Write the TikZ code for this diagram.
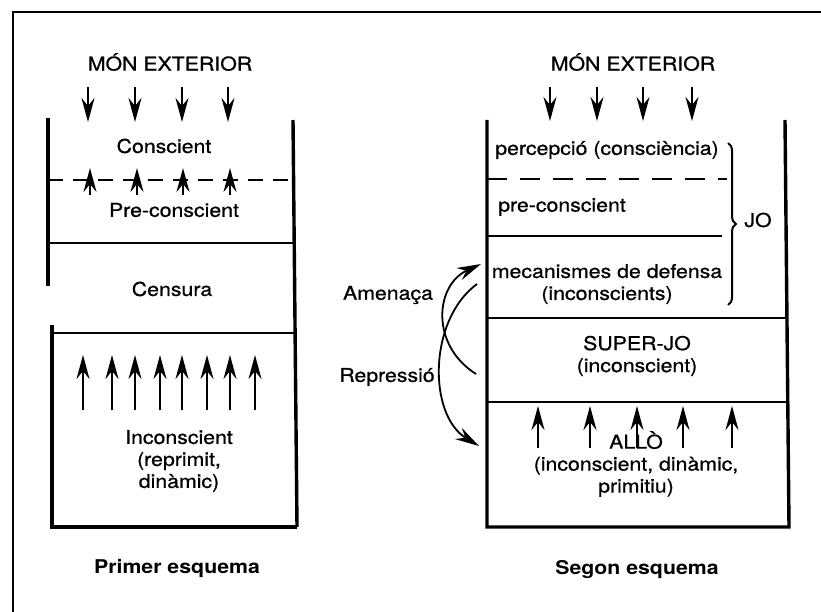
\documentclass[tikz,border=0pt]{standalone}
\usepackage{fontspec}
\setmainfont{TeX Gyre Heros}[FakeStretch=1.12, UprightFeatures={FakeBold=0.8}]
\usetikzlibrary{arrows.meta, decorations.pathreplacing}
\tikzset{
  wall/.style={line width=3.4pt},
  sep/.style={line width=2.8pt},
  dashsep/.style={line width=2.8pt, dash pattern=on 20pt off 13pt},
  flow/.style={line width=1.8pt, -{Stealth[length=24pt,width=13pt,inset=8pt]}},
  lbl/.style={font=\fontsize{19}{22}\selectfont, inner sep=0pt, align=center},
}
\begin{document}
\begin{tikzpicture}[x=1pt,y=-1pt]
      \useasboundingbox (0,0) rectangle (821,612);
      % frame
      \draw[sep] (13,612) -- (13,12) -- (821,12);
      % first scheme: walls and layers
      \draw[wall] (48,118) -- (48,286);
      \draw[wall] (293,120) -- (297,527);
      \draw[wall] (52,325) -- (52,527) -- (297,527);
      \draw[sep] (52,333) -- (296,333);
      \draw[sep] (48,243) -- (294,243);
      \draw[sep, dash pattern=on 15pt off 10pt] (48,180) -- (293,180);
      \node[lbl] (monA) at (170,62) {MÓN EXTERIOR};
      \node[lbl] (conscA) at (164,146) {Conscient};
      \node[lbl] (preA) at (174,210) {Pre-conscient};
      \node[lbl] (censA) at (172,289) {Censura};
      \node[lbl] (incA) at (179,461) {Inconscient\\(reprimit,\\dinàmic)};
      \node[lbl, font=\fontsize{19}{22}\selectfont\bfseries] (titA) at (177,568) {Primer esquema};
      % arrows of the first scheme
      \foreach \x in {88,135,182,228} \draw[flow] (\x,87) -- (\x,122);
      \foreach \x in {90,137,183,230} \draw[flow] (\x,195) -- (\x,168);
      \foreach \x in {83,112,135,160,182,207,230,255} \draw[flow] (\x,410) -- (\x,355);
      % second scheme: walls and layers
      \draw[wall] (487,120) -- (487,527) -- (789,527) -- (785,120);
      \draw[sep] (487,318) -- (787,318);
      \draw[sep] (487,402) -- (788,402);
      \draw[sep] (487,236) -- (722,236);
      \draw[dashsep] (487,179) -- (727,179);
      \node[lbl] (monB) at (633,62) {MÓN EXTERIOR};
      \node[lbl] (percB) at (607,150) {percepció (consciència)};
      \node[lbl] (preB) at (562,207) {pre-conscient};
      \node[lbl] (mecB) at (607,284) {mecanismes de defensa\\(inconscients)};
      \node[lbl] (supB) at (637,356) {SUPER-JO\\(inconscient)};
      \node[lbl] (alloB) at (636,464) {ALLÒ\\(inconscient, dinàmic,\\primitiu)};
      \node[lbl, font=\fontsize{19}{22}\selectfont\bfseries] (titB) at (637,570) {Segon esquema};
      % brace of the JO
      \draw[line width=2pt, decorate, decoration={brace, amplitude=8pt}] (728,143) -- (728,305);
      \node[lbl] (jo) at (758,220) {JO};
      % arrows of the second scheme
      \foreach \x in {550,597,643,692} \draw[flow] (\x,87) -- (\x,121);
      \foreach \x in {538,590,637,683,732} \draw[flow] (\x,448) -- (\x,406);
      % threat and repression
      \node[lbl] (amen) at (388,295) {Amenaça};
      \node[lbl] (repr) at (387,377) {Repressió};
      \draw[flow] (476,374) .. controls (430,345) and (435,285) .. (481,264);
      \draw[flow] (477,284) .. controls (428,320) and (428,415) .. (479,446);
    \end{tikzpicture}
\end{document}
